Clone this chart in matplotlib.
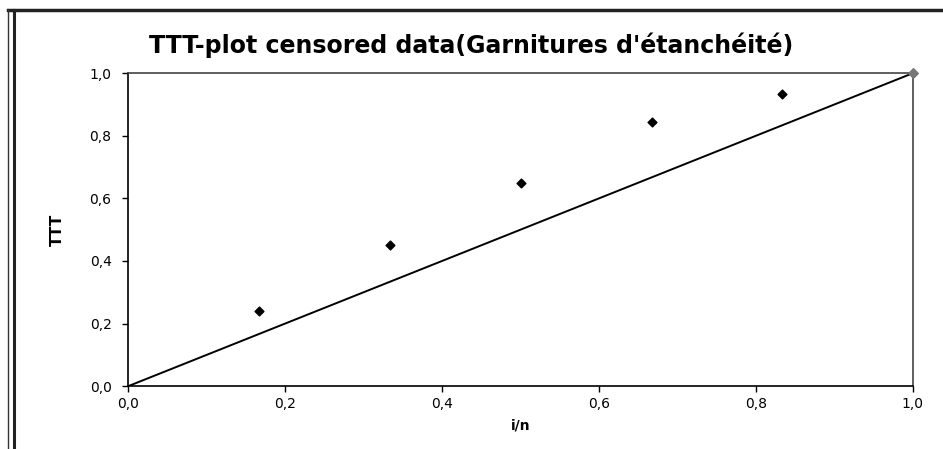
import numpy as np
import matplotlib.pyplot as plt
from matplotlib.lines import Line2D

# TTT-plot points (i/n, TTT)
i_n = [0.167, 0.333, 0.5, 0.667, 0.833, 1.0]
ttt = [0.24, 0.45, 0.65, 0.845, 0.935, 1.0]

# reference diagonal
diag_x = [0.0, 1.0]
diag_y = [0.0, 1.0]

tick_vals = [0.0, 0.2, 0.4, 0.6, 0.8, 1.0]
tick_labels = ['0,0', '0,2', '0,4', '0,6', '0,8', '1,0']

fig = plt.figure(figsize=(9.43, 4.49), dpi=100)
ax = fig.add_axes([0.136, 0.140, 0.832, 0.697])

# outer chart frame (scanned: top + double left edge, open right/bottom)
W, H = 943.0, 449.0
fig.lines.append(Line2D([8 / W, 1.0], [1 - 10 / H, 1 - 10 / H], transform=fig.transFigure,
                        color='#222222', linewidth=2.5))
fig.lines.append(Line2D([8 / W, 8 / W], [0.0, 1 - 10 / H], transform=fig.transFigure,
                        color='#333333', linewidth=1.0))
fig.lines.append(Line2D([14 / W, 14 / W], [0.0, 1 - 10 / H], transform=fig.transFigure,
                        color='#222222', linewidth=2.2))

ax.plot(diag_x, diag_y, color='black', linewidth=1.4)
ax.scatter(i_n[:-1], ttt[:-1], marker='D', s=20, color='black', zorder=3)
ax.scatter(i_n[-1:], ttt[-1:], marker='D', s=24, color='#777777', zorder=3, clip_on=False)

ax.set_xlim(0, 1)
ax.set_ylim(0, 1)
ax.set_xticks(tick_vals)
ax.set_xticklabels(tick_labels)
ax.set_yticks(tick_vals)
ax.set_yticklabels(tick_labels)
ax.tick_params(labelsize=10, direction='out', length=4, width=1)
ax.tick_params(axis='y', pad=8)

for s in ['top', 'right']:
    ax.spines[s].set_color('#444444')
for s in ax.spines.values():
    s.set_linewidth(1.2)

ax.set_xlabel('i/n', fontsize=10, fontweight='bold', labelpad=6)
ax.set_ylabel('TTT', fontsize=11, fontweight='bold', labelpad=18)
fig.text(0.5, 0.9, "TTT-plot censored data(Garnitures d'étanchéité)",
         ha='center', va='center', fontsize=17, fontweight='bold')

fig.savefig('out.png', dpi=100)
